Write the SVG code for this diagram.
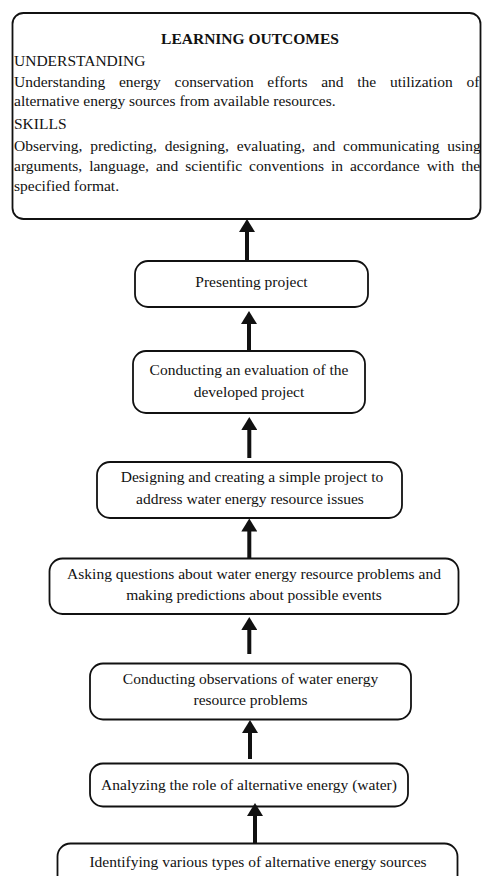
<svg xmlns="http://www.w3.org/2000/svg" width="482" height="876" viewBox="0 0 482 876">
<defs>
<style>
.box{fill:#fff;stroke:#111;stroke-width:1.8}
text{font-family:"Liberation Serif","Times New Roman",serif;font-size:15.5px;fill:#111}
.c{text-anchor:middle}
.b{font-weight:bold}
.arr{stroke:#111;stroke-width:4;fill:none}
</style>
<marker id="ah" viewBox="0 0 13 16" refX="2" refY="8" markerWidth="13" markerHeight="16" markerUnits="userSpaceOnUse" orient="auto">
<path d="M0,0 L13,8 L0,16 z" fill="#111"/>
</marker>
</defs>
<rect width="482" height="876" fill="#fff"/>
<g id="outcomes">
<rect class="box" x="12.5" y="13" width="468" height="206" rx="11"/>
<text class="c b" x="250" y="44">LEARNING OUTCOMES</text>
<text x="14" y="66">UNDERSTANDING</text>
<text x="14" y="87" word-spacing="9.8">Understanding energy conservation efforts and the utilization of</text>
<text x="14" y="106">alternative energy sources from available resources.</text>
<text x="14" y="129">SKILLS</text>
<text x="14" y="150.5" word-spacing="3.9">Observing, predicting, designing, evaluating, and communicating using</text>
<text x="14" y="170.5" word-spacing="3.1">arguments, language, and scientific conventions in accordance with the</text>
<text x="14" y="190.5">specified format.</text>
</g>
<g id="presenting">
<rect class="box" x="135" y="261" width="233" height="46" rx="13"/>
<text class="c" x="251.5" y="287">Presenting project</text>
</g>
<g id="evaluation">
<rect class="box" x="133" y="351" width="232" height="62" rx="13"/>
<text class="c" x="249" y="375">Conducting an evaluation of the</text>
<text class="c" x="249" y="397">developed project</text>
</g>
<g id="designing">
<rect class="box" x="97" y="462" width="305" height="56" rx="13"/>
<text class="c" x="252" y="482">Designing and creating a simple project to</text>
<text class="c" x="250" y="503.5">address water energy resource issues</text>
</g>
<g id="asking">
<rect class="box" x="49.5" y="558.5" width="409" height="55.5" rx="13"/>
<text class="c" x="254" y="578.5">Asking questions about water energy resource problems and</text>
<text class="c" x="254" y="599.5">making predictions about possible events</text>
</g>
<g id="observing">
<rect class="box" x="90" y="663.5" width="321" height="56" rx="13"/>
<text class="c" x="250.5" y="683.5">Conducting observations of water energy</text>
<text class="c" x="250.5" y="705">resource problems</text>
</g>
<g id="analyzing">
<rect class="box" x="90" y="763.5" width="318" height="43" rx="13"/>
<text class="c" x="249" y="790">Analyzing the role of alternative energy (water)</text>
</g>
<g id="identifying">
<rect class="box" x="57.5" y="843.5" width="400" height="50" rx="13"/>
<text class="c" x="258" y="867">Identifying various types of alternative energy sources</text>
</g>
<g id="connectors">
<line class="arr" x1="247" y1="261" x2="247" y2="230" marker-end="url(#ah)"/>
<line class="arr" x1="249" y1="351" x2="249" y2="322" marker-end="url(#ah)"/>
<line class="arr" x1="249.3" y1="458" x2="249.3" y2="428" marker-end="url(#ah)"/>
<line class="arr" x1="249.3" y1="558.5" x2="249.3" y2="529.5" marker-end="url(#ah)"/>
<line class="arr" x1="249.3" y1="654" x2="249.3" y2="628" marker-end="url(#ah)"/>
<line class="arr" x1="250" y1="759" x2="250" y2="731" marker-end="url(#ah)"/>
<line class="arr" x1="255" y1="843.5" x2="255" y2="814" marker-end="url(#ah)"/>
</g>
</svg>
